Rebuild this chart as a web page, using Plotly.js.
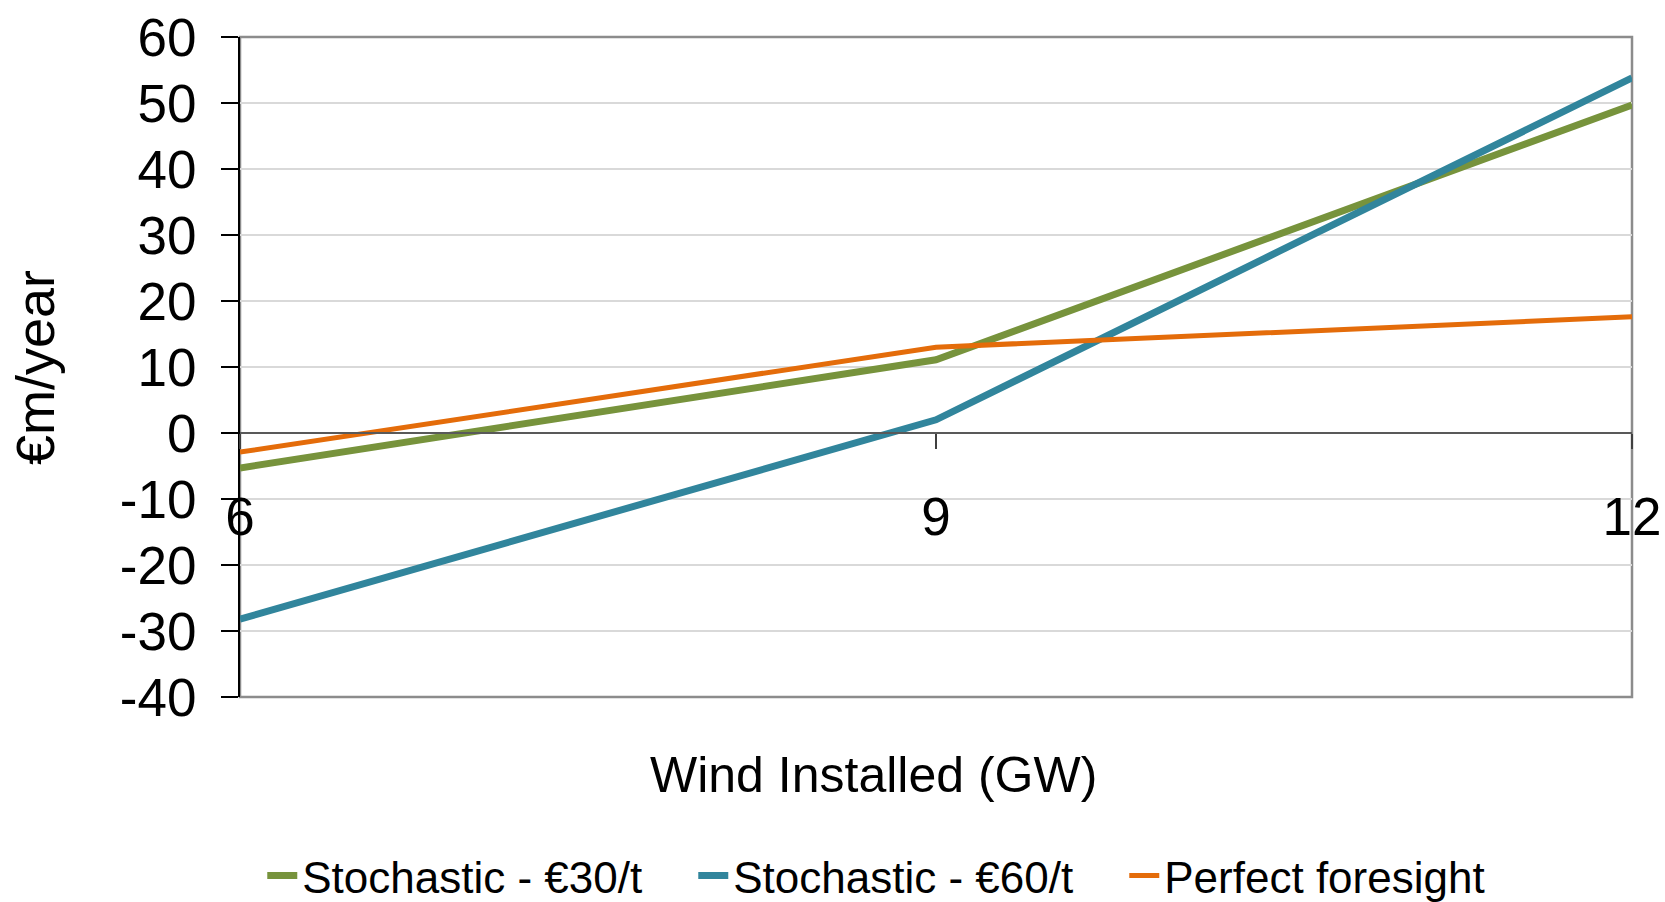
<!DOCTYPE html>
<html>
<head>
<meta charset="utf-8">
<script src="https://cdn.plot.ly/plotly-3.0.1.min.js"></script>
<style>html,body{margin:0;padding:0;background:#fff;}#chart{width:1665px;height:902px;}</style>
</head>
<body>
<div id="chart"></div>
<script>
// Data
const windInstalled = [6, 9, 12];
const stochastic30 = [-5.3, 11.1, 49.7];
const stochastic60 = [-28.2, 2.0, 53.8];
const perfectForesight = [-2.9, 13.0, 17.6];
const seriesNames = ["Stochastic - €30/t", "Stochastic - €60/t", "Perfect foresight"];
const xTicks = [6, 9, 12];
const yTicks = [-40, -30, -20, -10, 0, 10, 20, 30, 40, 50, 60];

const FONT = "Liberation Sans, Arial, sans-serif";

const traces = [
  {x: windInstalled, y: stochastic30, name: seriesNames[0], mode: "lines",
   line: {color: "#77933c", width: 7}},
  {x: windInstalled, y: stochastic60, name: seriesNames[1], mode: "lines",
   line: {color: "#31859c", width: 7}},
  {x: windInstalled, y: perfectForesight, name: seriesNames[2], mode: "lines",
   line: {color: "#e46c0a", width: 5}}
];

const layout = {
  width: 1665, height: 902,
  margin: {l: 240, r: 33, t: 37, b: 205, autoexpand: false},
  paper_bgcolor: "#fff", plot_bgcolor: "#fff",
  font: {family: FONT, color: "#000", size: 48},
  showlegend: true,
  legend: {orientation: "h", x: 0.016, xanchor: "left", y: -0.271, yanchor: "middle",
           font: {family: FONT, size: 44, color: "#000"},
           entrywidth: 386, entrywidthmode: "pixels", itemgap: 0,
           bgcolor: "rgba(0,0,0,0)"},
  xaxis: {
    range: [6, 12], tickvals: xTicks, ticktext: xTicks.map(String),
    anchor: "free", position: 0.4,
    showgrid: false, zeroline: false,
    showline: true, linecolor: "#595959", linewidth: 2,
    ticks: "outside", ticklen: 15, tickwidth: 2, tickcolor: "#404040",
    ticklabelstandoff: 22,
    tickfont: {family: FONT, size: 53, color: "#000"}
  },
  yaxis: {
    range: [-40, 60], tickvals: yTicks, ticktext: yTicks.map(String),
    showgrid: true, gridcolor: "#d9d9d9", gridwidth: 1.5,
    zeroline: false,
    showline: true, linecolor: "#000", linewidth: 2,
    ticks: "outside", ticklen: 17, tickwidth: 2, tickcolor: "#000",
    ticklabelstandoff: 14,
    tickfont: {family: FONT, size: 53, color: "#000"}
  },
  shapes: [
    {type: "rect", xref: "x domain", yref: "y domain", x0: 0, x1: 1, y0: 0, y1: 1,
     line: {color: "#8c8c8c", width: 2.5}, layer: "below"}
  ],
  annotations: [
    {text: "Wind Installed (GW)", xref: "paper", yref: "paper", x: 0.455, y: -0.118,
     xanchor: "center", yanchor: "middle", showarrow: false,
     font: {family: FONT, size: 50, color: "#000"}},
    {text: "€m/year", xref: "paper", yref: "paper", x: -0.1473, y: 0.5,
     xanchor: "center", yanchor: "middle", textangle: -90, showarrow: false,
     font: {family: FONT, size: 54, color: "#000"}}
  ]
};

Plotly.newPlot("chart", traces, layout, {displayModeBar: false, staticPlot: true});
</script>
</body>
</html>
